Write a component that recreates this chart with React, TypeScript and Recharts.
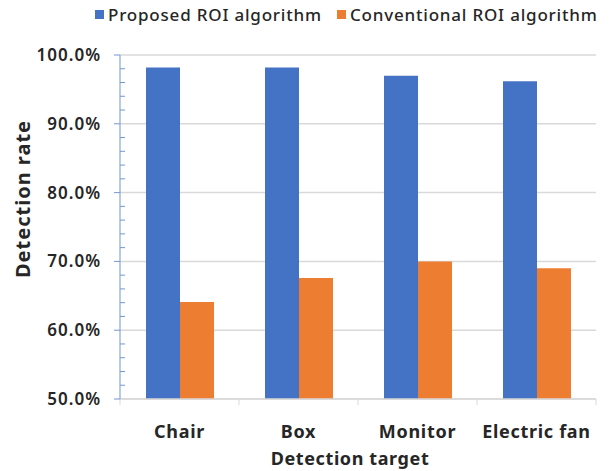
import React from "react";
import {
  Bar,
  BarChart,
  CartesianGrid,
  Label,
  Legend,
  XAxis,
  YAxis
} from "recharts";

const categories = ["Chair", "Box", "Monitor", "Electric fan"];
const proposedRates = [98.2, 98.2, 97.0, 96.2];
const conventionalRates = [64.1, 67.6, 70.0, 69.0];
const yTicks = [50, 52, 54, 56, 58, 60, 62, 64, 66, 68, 70, 72, 74, 76, 78, 80, 82, 84, 86, 88, 90, 92, 94, 96, 98, 100];
const majorTicks = [50, 60, 70, 80, 90, 100];

const BLUE = "#4472C4";
const ORANGE = "#ED7D31";
const AXIS_BLUE = "#7596d3";
const GRID = "#d9d9d9";
const TEXT = "#262626";
const FONT = '"Noto Sans", "Open Sans", sans-serif';

const W = 613;
const H = 471;
const MARGIN = { top: 55, right: 17, bottom: 0, left: 0 };
const Y_AXIS_W = 120;
const X_AXIS_H = 72;
const Y_TICK_SIZE = 6;
const Y_TICK_MARGIN = 13;
const BAND = (W - MARGIN.left - MARGIN.right - Y_AXIS_W) / categories.length;

const data = categories.map((name, i) => ({
  name,
  proposed: proposedRates[i],
  conventional: conventionalRates[i]
}));

function YTick(props: any) {
  const { x, y, payload } = props;
  const axisX = x + Y_TICK_SIZE + Y_TICK_MARGIN;
  const major = majorTicks.includes(payload.value);
  return (
    <g>
      {major ? (
        <line x1={axisX - 6} x2={axisX} y1={y} y2={y} stroke={AXIS_BLUE} />
      ) : (
        <line x1={axisX} x2={axisX + 5} y1={y} y2={y} stroke={AXIS_BLUE} />
      )}
      {major && (
        <text
          x={x}
          y={y}
          dy={6}
          textAnchor="end"
          fill={TEXT}
          fontSize={17}
          fontWeight={600}
          letterSpacing={1}
          fontFamily={FONT}
        >
          {payload.value.toFixed(1)}%
        </text>
      )}
    </g>
  );
}

function XTick(props: any) {
  const { x, y, payload, index } = props;
  const half = BAND / 2;
  return (
    <g>
      <line x1={x - half} x2={x - half} y1={y} y2={y + 6} stroke={GRID} />
      {index === categories.length - 1 && (
        <line x1={x + half} x2={x + half} y1={y} y2={y + 6} stroke={GRID} />
      )}
      <text
        x={x}
        y={y + 39}
        textAnchor="middle"
        fill={TEXT}
        fontSize={18}
        fontWeight={700}
        letterSpacing={0.7}
        fontFamily={FONT}
      >
        {payload.value}
      </text>
    </g>
  );
}

function YTitle(props: any) {
  const { viewBox } = props;
  const cx = viewBox.x + 22;
  const cy = viewBox.y + viewBox.height / 2 - 28;
  return (
    <text
      x={cx}
      y={cy}
      textAnchor="middle"
      dominantBaseline="central"
      transform={`rotate(-90, ${cx}, ${cy})`}
      fill={TEXT}
      fontSize={20}
      fontWeight={700}
      letterSpacing={1}
      fontFamily={FONT}
    >
      Detection rate
    </text>
  );
}

function XTitle(props: any) {
  const { viewBox } = props;
  return (
    <text
      x={viewBox.x + viewBox.width / 2 - 8}
      y={viewBox.y + 66}
      textAnchor="middle"
      fill={TEXT}
      fontSize={18}
      fontWeight={700}
      letterSpacing={0.6}
      fontFamily={FONT}
    >
      Detection target
    </text>
  );
}

function LegendContent() {
  const items = [
    { label: "Proposed ROI algorithm", color: BLUE },
    { label: "Conventional ROI algorithm", color: ORANGE }
  ];
  return (
    <div style={{ display: "flex", alignItems: "center", fontFamily: FONT }}>
      {items.map((it) => (
        <div key={it.label} style={{ display: "flex", alignItems: "center", marginRight: 15 }}>
          <span style={{ width: 9, height: 9, background: it.color, marginRight: 4 }} />
          <span style={{ fontSize: 17, fontWeight: 500, letterSpacing: 0.8, color: TEXT, whiteSpace: "nowrap" }}>
            {it.label}
          </span>
        </div>
      ))}
    </div>
  );
}

export default function App() {
  return (
    <div style={{ position: "absolute", left: 0, top: 0, background: "#fff" }}>
      <BarChart
        width={W}
        height={H}
        data={data}
        margin={MARGIN}
        barGap={0}
        barSize={34}
      >
        <CartesianGrid
          vertical={false}
          stroke={GRID}
          strokeWidth={1.5}
          horizontalValues={majorTicks}
        />
        <Legend
          verticalAlign="middle"
          content={<LegendContent />}
          wrapperStyle={{ top: 3, left: 95, width: 518 }}
        />
        <XAxis
          dataKey="name"
          height={X_AXIS_H}
          axisLine={{ stroke: GRID, strokeWidth: 1.5 }}
          tickLine={false}
          tickSize={0}
          tickMargin={0}
          interval={0}
          tick={<XTick />}
        >
          <Label content={<XTitle />} />
        </XAxis>
        <YAxis
          width={Y_AXIS_W}
          domain={[50, 100]}
          ticks={yTicks}
          interval={0}
          allowDataOverflow
          axisLine={{ stroke: AXIS_BLUE }}
          tickLine={false}
          tickSize={Y_TICK_SIZE}
          tickMargin={Y_TICK_MARGIN}
          tick={<YTick />}
        >
          <Label content={<YTitle />} />
        </YAxis>
        <Bar dataKey="proposed" name="Proposed ROI algorithm" fill={BLUE} isAnimationActive={false} />
        <Bar dataKey="conventional" name="Conventional ROI algorithm" fill={ORANGE} isAnimationActive={false} />
      </BarChart>
    </div>
  );
}
